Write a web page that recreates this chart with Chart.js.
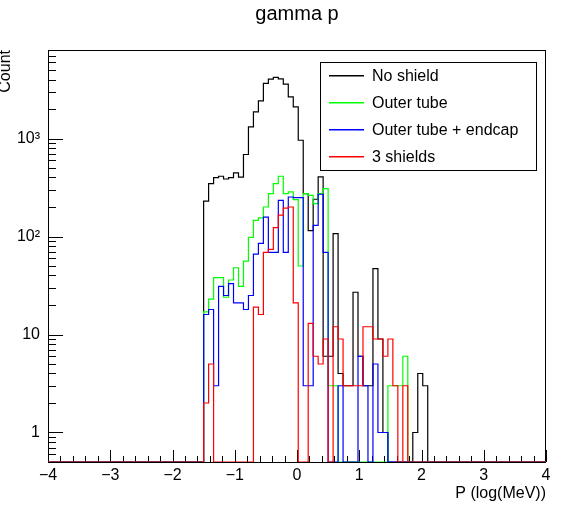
<!DOCTYPE html>
<html><head><meta charset="utf-8">
<script src="https://cdn.jsdelivr.net/npm/chart.js@4.4.1/dist/chart.umd.min.js"></script>
<style>html,body{margin:0;padding:0;background:#fff;}#wrap{width:565px;height:505px;position:relative;}</style>
</head><body><div id="wrap"><canvas id="c" width="565" height="505"></canvas></div>
<script>
// ---- data ----
const binEdges = [-1.50,-1.42,-1.34,-1.26,-1.18,-1.10,-1.02,-0.94,-0.86,
  -0.78,-0.70,-0.62,-0.54,-0.46,-0.38,-0.30,-0.22,-0.14,-0.06,
  0.02,0.10,0.18,0.26,0.34,0.42,0.50,0.58,0.66,0.74,
  0.82,0.90,0.98,1.06,1.14,1.22,1.30,1.38,1.46,1.54,
  1.62,1.70,1.78,1.86,1.94,2.02,2.10];
const lastEdge = 2.18;
const noShield = [230,347,399,412,386,399,445,404,687,1313,
  1870,2420,3650,4040,4200,4050,3590,2660,2100,960,
  273,115,240,405,6,6,107,4,3,3,
  27,6,3,3,47,9,1,0,0,0,
  0,0,1,4,3,0];
const outerTube = [17,23,38,38,24,36,48,31,56,98,
  146,155,200,274,346,412,274,285,238,50,
  274,263,216,274,308,3,3,0,0,0,
  0,0,0,0,0,0,0,3,3,3,
  6,0,0,0,0,0];
const outerEndcap = [16,18,3,31,25,33,21,21,18,25,
  66,85,158,69,69,234,69,253,249,249,
  3,3,130,270,69,0,0,3,0,0,
  0,6,3,0,5,1,1,0,0,0,
  0,0,0,0,0,0];
const threeShields = [2,5,0,0,0,0,0,0,0,0,
  19,16,69,74,123,165,195,200,21,0,
  0,13,6,5,9,0,12,9,3,3,
  3,3,12,12,9,9,6,9,3,0,
  3,0,0,0,0,0];
const seriesNames = ['No shield','Outer tube','Outer tube + endcap','3 shields'];
const seriesColors = ['#000000','#00ff00','#0000ff','#ff0000'];
const xTickValues = [-4,-3,-2,-1,0,1,2,3,4];
const yTickValues = [1,10,100,1000];
const yTickLabels = ['1','10','10\u00b2','10\u00b3'];
const titleText = 'gamma p';
const xTitle = 'P (log(MeV))';
const yTitle = 'Count';
const X_MIN = -4, X_MAX = 4, Y_MIN = 0.5, Y_MAX = 8000;
const FONT = '"Liberation Sans", Arial, sans-serif';

function histPoints(vals){
  const pts = [{x: X_MIN, y: Y_MIN}];
  for (let k = 0; k < binEdges.length; k++) {
    pts.push({x: binEdges[k], y: vals[k] > 0 ? vals[k] : Y_MIN});
  }
  pts.push({x: lastEdge, y: Y_MIN});
  pts.push({x: X_MAX, y: Y_MIN});
  return pts;
}
const allSeries = [noShield, outerTube, outerEndcap, threeShields];
const datasets = allSeries.map((s, i) => ({
  label: seriesNames[i],
  data: histPoints(s),
  borderColor: seriesColors[i],
  borderWidth: 1.2,
  pointRadius: 0,
  fill: false,
  stepped: 'before',
  order: 4 - i
}));

const decor = {
  id: 'decor',
  beforeDatasetsDraw(chart){
    const {ctx, chartArea: a, scales: {x, y}} = chart;
    ctx.save();
    ctx.strokeStyle = '#000';
    ctx.lineWidth = 1;
    ctx.strokeRect(Math.round(a.left)+0.5, Math.round(a.top)+0.5,
      Math.round(a.right - a.left)-1, Math.round(a.bottom - a.top));
    ctx.beginPath();
    for (let i = 0; i <= 40; i++) {
      const v = X_MIN + i * 0.2;
      const px = Math.round(x.getPixelForValue(v)) + 0.5;
      const len = (i % 5 === 0) ? 12 : 6;
      ctx.moveTo(px, a.bottom);
      ctx.lineTo(px, a.bottom - len);
    }
    for (const d of [0.1, 1, 10, 100, 1000]) {
      for (let m = 1; m <= 9; m++) {
        const v = m * d;
        if (v < Y_MIN || v > Y_MAX) continue;
        const py = Math.round(y.getPixelForValue(v)) + 0.5;
        const len = (m === 1) ? 15 : 8;
        ctx.moveTo(a.left, py);
        ctx.lineTo(a.left + len, py);
      }
    }
    ctx.stroke();
    ctx.restore();
  },
  afterDraw(chart){
    const {ctx, chartArea: a} = chart;
    ctx.save();
    ctx.fillStyle = '#000';
    ctx.font = '20px ' + FONT;
    ctx.textAlign = 'center';
    ctx.textBaseline = 'alphabetic';
    ctx.fillText(titleText, (a.left + a.right) / 2, 20);
    ctx.font = '16px ' + FONT;
    ctx.textAlign = 'right';
    ctx.fillText(xTitle, a.right, 498);
    ctx.save();
    ctx.translate(10, a.top);
    ctx.rotate(-Math.PI / 2);
    ctx.textAlign = 'right';
    ctx.fillText(yTitle, 0, 0);
    ctx.restore();
    // legend
    const L = 320, T = 62, R = 536, B = 170;
    ctx.fillStyle = '#fff';
    ctx.fillRect(L, T, R - L, B - T);
    ctx.strokeStyle = '#000';
    ctx.lineWidth = 1;
    ctx.strokeRect(L + 0.5, T + 0.5, R - L, B - T);
    const rowH = (B - T) / 4;
    ctx.font = '16px ' + FONT;
    ctx.textAlign = 'left';
    ctx.textBaseline = 'middle';
    for (let i = 0; i < 4; i++) {
      const cy = Math.round(T + rowH * (i + 0.5));
      ctx.fillStyle = seriesColors[i];
      ctx.fillRect(329, cy - 1, 35, 1.5);
      ctx.fillStyle = '#000';
      ctx.fillText(seriesNames[i], 372, cy + 1);
    }
    ctx.restore();
  }
};

new Chart(document.getElementById('c'), {
  type: 'line',
  data: { datasets },
  options: {
    responsive: false,
    animation: false,
    devicePixelRatio: 1,
    layout: { padding: { top: 50, right: 19, left: 0, bottom: 0 } },
    plugins: { legend: { display: false }, title: { display: false }, tooltip: { enabled: false } },
    elements: { line: { tension: 0 } },
    scales: {
      x: {
        type: 'linear', min: X_MIN, max: X_MAX,
        grid: { display: false, drawTicks: false },
        border: { display: false },
        afterBuildTicks: s => { s.ticks = xTickValues.map(v => ({ value: v })); },
        afterFit: s => { s.height = 43; },
        ticks: {
          padding: 4, color: '#000', maxRotation: 0, autoSkip: false,
          font: { family: FONT, size: 16 },
          callback: v => v < 0 ? '\u2212' + (-v) : String(v)
        }
      },
      y: {
        type: 'logarithmic', min: Y_MIN, max: Y_MAX,
        grid: { display: false, drawTicks: false },
        border: { display: false },
        afterBuildTicks: s => { s.ticks = yTickValues.map(v => ({ value: v })); },
        afterFit: s => { s.width = 48; },
        ticks: {
          padding: 8, color: '#000', autoSkip: false,
          font: { family: FONT, size: 16 },
          callback: v => { const i = yTickValues.indexOf(v); return i >= 0 ? yTickLabels[i] : ''; }
        }
      }
    }
  },
  plugins: [decor]
});
</script>
</body></html>
